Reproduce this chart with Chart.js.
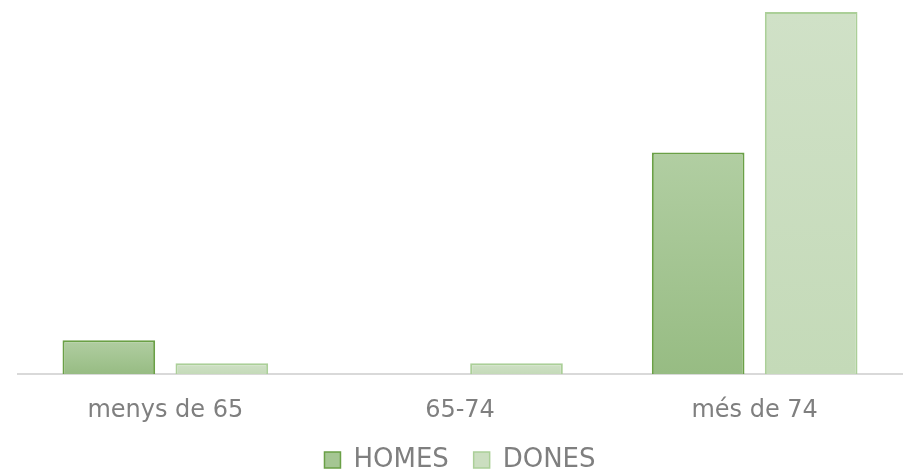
<!DOCTYPE html>
<html>
<head>
<meta charset="utf-8">
<script src="https://cdn.jsdelivr.net/npm/chart.js@4/dist/chart.umd.min.js"></script>
<style>
html,body{margin:0;padding:0;background:#fff;}
#wrap{width:904px;height:475px;position:relative;}
</style>
</head>
<body>
<div id="wrap"><canvas id="c"></canvas></div>
<script>
const categories = ['menys de 65', '65-74', 'més de 74'];
const homes = [3.1, 0, 20.2];
const dones = [1, 1, 33];
const seriesNames = ['HOMES', 'DONES'];

function grad(top, bottom) {
  return function(ctx) {
    const chart = ctx.chart;
    const area = chart.chartArea;
    if (!area || ctx.type !== 'data') return bottom;
    const y = chart.scales.y;
    const v = ctx.parsed ? ctx.parsed.y : 0;
    const yt = y.getPixelForValue(v);
    const yb = y.getPixelForValue(0);
    if (!isFinite(yt) || Math.abs(yb - yt) < 1) return bottom;
    const g = chart.ctx.createLinearGradient(0, yt, 0, yb);
    g.addColorStop(0, top);
    g.addColorStop(1, bottom);
    return g;
  };
}

new Chart(document.getElementById('c'), {
  type: 'bar',
  data: {
    labels: categories,
    datasets: [
      {
        label: seriesNames[0],
        data: homes,
        backgroundColor: grad('#b1cea2', '#97bc83'),
        borderColor: '#6aa046',
        borderWidth: 2,
        borderSkipped: 'bottom',
        categoryPercentage: 0.767,
        barPercentage: 0.82
      },
      {
        label: seriesNames[1],
        data: dones,
        backgroundColor: grad('#d0e1c7', '#c4dab8'),
        borderColor: '#abcf98',
        borderWidth: 2,
        borderSkipped: 'bottom',
        categoryPercentage: 0.767,
        barPercentage: 0.82
      }
    ]
  },
  options: {
    responsive: true,
    maintainAspectRatio: false,
    animation: false,
    layout: { padding: { top: 12, left: 18, right: 2, bottom: -8 } },
    plugins: {
      legend: {
        position: 'bottom',
        labels: {
          color: '#7f7f7f',
          font: { family: 'DejaVu Sans', size: 26 },
          boxWidth: 16,
          boxHeight: 16,
          padding: 0,
          generateLabels: function(chart) {
            const fills = ['#a5c693', '#cbdec0'];
            return chart.data.datasets.map((ds, i) => ({
              text: i === 0 ? ds.label + '   ' : ds.label,
              fillStyle: fills[i],
              strokeStyle: ds.borderColor,
              lineWidth: 1.5,
              fontColor: '#7f7f7f',
              datasetIndex: i,
              hidden: false
            }));
          }
        }
      },
      tooltip: { enabled: false }
    },
    scales: {
      x: {
        grid: { display: false, drawTicks: false },
        border: { display: true, color: '#d9d9d9', width: 2 },
        ticks: {
          color: '#7f7f7f',
          font: { family: 'DejaVu Sans', size: 24 },
          padding: 22
        }
      },
      y: {
        display: false,
        min: 0,
        max: 33,
        grid: { display: false }
      }
    }
  }
});
</script>
</body>
</html>
